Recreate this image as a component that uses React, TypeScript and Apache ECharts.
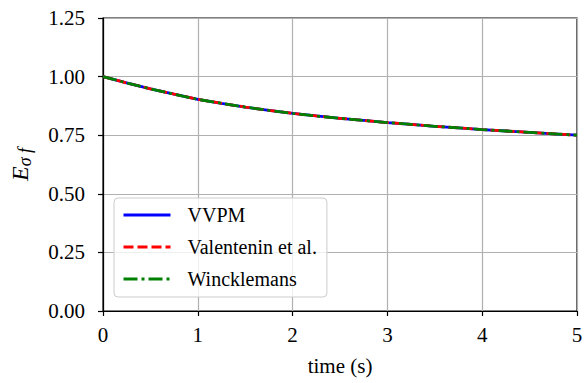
import React, { useEffect, useRef } from "react";
import * as echarts from "echarts";

const timeValues = [0, 0.25, 0.5, 0.75, 1, 1.25, 1.5, 1.75, 2, 2.25, 2.5, 2.75, 3, 3.25, 3.5, 3.75, 4, 4.25, 4.5, 4.75, 5];
const vvpmValues = [1.0, 0.973, 0.948, 0.925, 0.903, 0.886, 0.87, 0.856, 0.843, 0.832, 0.822, 0.813, 0.804, 0.796, 0.788, 0.781, 0.774, 0.768, 0.762, 0.756, 0.75];
const valentinValues = [1.0, 0.973, 0.948, 0.925, 0.903, 0.886, 0.87, 0.856, 0.843, 0.832, 0.822, 0.813, 0.804, 0.796, 0.788, 0.781, 0.774, 0.768, 0.762, 0.756, 0.75];
const winckValues = [1.0, 0.973, 0.948, 0.925, 0.903, 0.886, 0.87, 0.856, 0.843, 0.832, 0.822, 0.813, 0.804, 0.796, 0.788, 0.781, 0.774, 0.768, 0.762, 0.756, 0.75];
const seriesNames = ["VVPM", "Valentenin et al.", "Wincklemans"];

const FONT = "Liberation Serif";

export default function App() {
  const ref = useRef<HTMLDivElement>(null);
  useEffect(() => {
    if (!ref.current) return;
    const chart = echarts.init(ref.current, null, { renderer: "svg" });
    const pairs = (vals: number[]) => timeValues.map((t, i) => [t, vals[i]]);
    chart.setOption({
      animation: false,
      backgroundColor: "#ffffff",
      textStyle: { fontFamily: FONT },
      grid: {
        left: 103,
        right: 10,
        top: 18,
        bottom: 72,
        show: true,
        borderColor: "#000000",
        borderWidth: 1.2,
        backgroundColor: "transparent",
      },
      legend: {
        left: 114,
        top: 198,
        orient: "vertical",
        padding: [7, 10, 8, 8],
        itemWidth: 47,
        itemHeight: 14,
        itemGap: 12,
        backgroundColor: "rgba(255,255,255,0.8)",
        borderColor: "#cccccc",
        borderWidth: 1,
        borderRadius: 4,
        itemStyle: { opacity: 0 },
        lineStyle: { width: 3 },
        textStyle: {
          fontFamily: FONT,
          fontSize: 20,
          color: "#000000",
          lineHeight: 20,
          padding: [0, 0, 0, 12],
        },
        data: seriesNames,
      },
      xAxis: {
        type: "value",
        min: 0,
        max: 5,
        interval: 1,
        name: "time (s)",
        nameLocation: "middle",
        nameGap: 44,
        nameTextStyle: { fontFamily: FONT, fontSize: 21, color: "#000000" },
        axisLine: { show: true, lineStyle: { color: "#000000", width: 1.2 } },
        axisTick: { show: true, inside: false, length: 5, lineStyle: { color: "#000000", width: 1.2 } },
        axisLabel: { fontFamily: FONT, fontSize: 21, color: "#000000", margin: 13 },
        splitLine: { show: true, lineStyle: { color: "#b0b0b0", width: 1.2 } },
      },
      yAxis: {
        type: "value",
        min: 0,
        max: 1.25,
        interval: 0.25,
        name: "{E|E}{s|σ f}",
        nameLocation: "middle",
        nameRotate: 90,
        nameGap: 69,
        nameTextStyle: {
          rich: {
            E: { fontFamily: FONT, fontSize: 24, fontStyle: "italic", color: "#000000", lineHeight: 28, verticalAlign: "middle" },
            s: { fontFamily: FONT, fontSize: 18, fontStyle: "italic", color: "#000000", lineHeight: 18, verticalAlign: "bottom" },
          },
        },
        axisLine: { show: true, lineStyle: { color: "#000000", width: 1.2 } },
        axisTick: { show: true, inside: false, length: 5, lineStyle: { color: "#000000", width: 1.2 } },
        axisLabel: {
          fontFamily: FONT,
          fontSize: 21,
          color: "#000000",
          margin: 18,
          formatter: (v: number) => v.toFixed(2),
        },
        splitLine: { show: true, lineStyle: { color: "#b0b0b0", width: 1.2 } },
      },
      series: [
        {
          name: seriesNames[0],
          type: "line",
          data: pairs(vvpmValues),
          showSymbol: false,
          symbol: "none",
          lineStyle: { color: "#0000ff", width: 2.8, type: "solid" },
          itemStyle: { color: "#0000ff" },
        },
        {
          name: seriesNames[1],
          type: "line",
          data: pairs(valentinValues),
          showSymbol: false,
          symbol: "none",
          lineStyle: { color: "#ff0000", width: 2.8, type: [10, 4] },
          itemStyle: { color: "#ff0000" },
        },
        {
          name: seriesNames[2],
          type: "line",
          data: pairs(winckValues),
          showSymbol: false,
          symbol: "none",
          lineStyle: { color: "#008000", width: 2.8, type: [14, 4, 3, 4] },
          itemStyle: { color: "#008000" },
        },
      ],
    });
    return () => chart.dispose();
  }, []);
  return <div ref={ref} style={{ position: "fixed", left: 0, top: 0, width: 587, height: 383 }} />;
}
